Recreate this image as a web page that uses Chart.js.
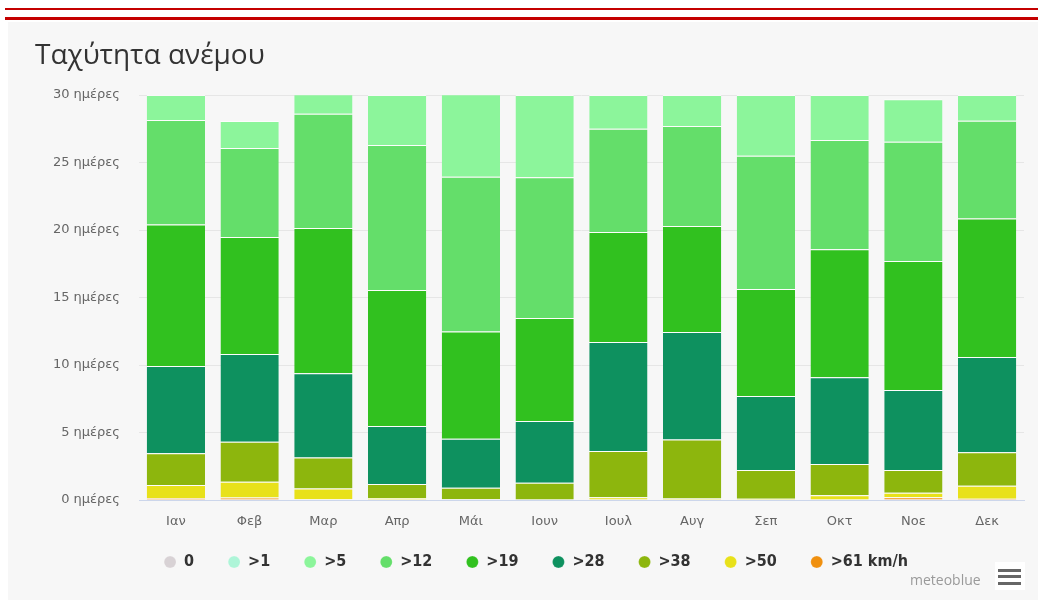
<!DOCTYPE html>
<html>
<head>
<meta charset="utf-8">
<script src="https://cdn.jsdelivr.net/npm/chart.js@4.4.1/dist/chart.umd.min.js"></script>
<style>
  html, body { margin: 0; padding: 0; background: #fff; }
  body { width: 1038px; height: 600px; position: relative; overflow: hidden; }
  .red1 { position: absolute; left: 5px; right: 0; top: 8px; height: 2px; background: #c40000; }
  .red2 { position: absolute; left: 5px; right: 0; top: 17px; height: 3px; background: #c40000; }
  .panel { position: absolute; left: 8px; right: 0; top: 22px; bottom: 0; background: #f7f7f7; }
  #wrap { position: absolute; left: 0; top: 0; width: 1038px; height: 600px; }
  .brand { position: absolute; left: 910px; top: 570px; font: 14px "Open Sans", sans-serif; color: #9a9a9a; }
  .menu { position: absolute; left: 995px; top: 562px; width: 30px; height: 28px; background: #fff; }
  .menu span { position: absolute; left: 3px; width: 23px; height: 3px; background: #666; }
</style>
</head>
<body>
<div class="red1"></div>
<div class="red2"></div>
<div class="panel"></div>
<div id="wrap"><canvas id="chart" width="1038" height="600"></canvas></div>
<div class="brand">meteoblue</div>
<div class="menu"><span style="top:7px"></span><span style="top:13px"></span><span style="top:20px"></span></div>
<script>
// months
const months = ['Ιαν', 'Φεβ', 'Μαρ', 'Απρ', 'Μάι', 'Ιουν', 'Ιουλ', 'Αυγ', 'Σεπ', 'Οκτ', 'Νοε', 'Δεκ'];

// days per month in each wind class (bottom of stack = fastest)
const over61 = [0.13, 0.18, 0.05, 0, 0, 0, 0, 0, 0, 0, 0.2, 0.1];
const over50 = [0.98, 1.18, 0.81, 0.13, 0.05, 0, 0.2, 0.12, 0.1, 0.35, 0.34, 0.96];
const over38 = [2.35, 2.96, 2.28, 1.06, 0.86, 1.28, 3.43, 4.37, 2.12, 2.32, 1.68, 2.47];
const over28 = [6.47, 6.49, 6.24, 4.29, 3.63, 4.57, 8.07, 7.95, 5.48, 6.43, 5.93, 7.07];
const over19 = [10.47, 8.67, 10.77, 10.08, 7.95, 7.63, 8.15, 7.86, 7.93, 9.47, 9.55, 10.26];
const over12 = [7.75, 6.59, 8.47, 10.74, 11.46, 10.42, 7.65, 7.4, 9.87, 8.1, 8.84, 7.24];
const over5 = [1.85, 2.0, 1.43, 3.7, 6.1, 6.1, 2.5, 2.3, 4.5, 3.33, 3.14, 1.9];
const over1 = [0, 0, 0, 0, 0, 0, 0, 0, 0, 0, 0, 0];
const calm = [0, 0, 0, 0, 0, 0, 0, 0, 0, 0, 0, 0];

const yTicks = [0, 5, 10, 15, 20, 25, 30];

// legend order left to right
const series = [
    { label: '0', data: calm, color: '#d8d2d5' },
    { label: '>1', data: over1, color: '#aef5d8' },
    { label: '>5', data: over5, color: '#8cf59b' },
    { label: '>12', data: over12, color: '#64de6a' },
    { label: '>19', data: over19, color: '#31c11f' },
    { label: '>28', data: over28, color: '#0e915f' },
    { label: '>38', data: over38, color: '#8db60d' },
    { label: '>50', data: over50, color: '#e8e11a' },
    { label: '>61 km/h', data: over61, color: '#f0900f' }
];

// stack order: fastest at bottom
const datasets = series.slice().reverse().map(s => ({
    label: s.label,
    data: s.data,
    backgroundColor: s.color,
    borderColor: 'rgba(255,255,255,0.75)',
    borderWidth: { top: 1, left: 0, right: 0, bottom: 0 },
    borderSkipped: false,
    categoryPercentage: 1,
    barPercentage: 0.79
}));

// pull the legend row up closer to the month labels
const legendNudge = {
    id: 'legendNudge',
    afterLayout(chart) {
        const lg = chart.legend;
        if (lg) { lg.top -= 10; lg.bottom -= 10; }
    }
};

new Chart(document.getElementById('chart'), {
    type: 'bar',
    data: { labels: months, datasets: datasets },
    plugins: [legendNudge],
    options: {
        responsive: false,
        animation: false,
        layout: { padding: { left: 35, right: 1, top: 39, bottom: 10 } },
        plugins: {
            title: {
                display: true,
                text: 'Ταχύτητα ανέμου',
                align: 'start',
                color: '#333',
                font: { family: '"Open Sans", sans-serif', size: 28, weight: 'normal' },
                padding: { top: 0, bottom: 22.4 }
            },
            legend: {
                position: 'bottom',
                reverse: true,
                labels: {
                    usePointStyle: true,
                    pointStyle: 'circle',
                    boxWidth: 12,
                    boxHeight: 8.5,
                    padding: 34,
                    color: '#333',
                    font: { family: '"DejaVu Sans Condensed", "DejaVu Sans", sans-serif', size: 16, weight: 'bold' }
                }
            },
            tooltip: { enabled: false }
        },
        scales: {
            x: {
                stacked: true,
                afterFit: s => { s.height = 30; },
                grid: { display: false },
                border: { display: true, color: '#ccd6eb' },
                ticks: { color: '#666', font: { family: '"DejaVu Sans", sans-serif', size: 13 }, padding: 6 }
            },
            y: {
                stacked: true,
                min: 0,
                max: 30,
                afterFit: s => { s.width = 104; },
                afterBuildTicks: s => { s.ticks = yTicks.map(v => ({ value: v })); },
                grid: { color: '#e6e6e6', drawTicks: false },
                border: { display: false },
                ticks: {
                    color: '#666',
                    padding: 19,
                    font: { family: '"DejaVu Sans", sans-serif', size: 13 },
                    callback: v => v + ' ημέρες'
                }
            },
            // empty right gutter so the plot ends where the original does
            gutter: {
                position: 'right',
                afterFit: s => { s.width = 13; },
                grid: { display: false },
                border: { display: false },
                ticks: { display: false }
            }
        }
    }
});
</script>
</body>
</html>
